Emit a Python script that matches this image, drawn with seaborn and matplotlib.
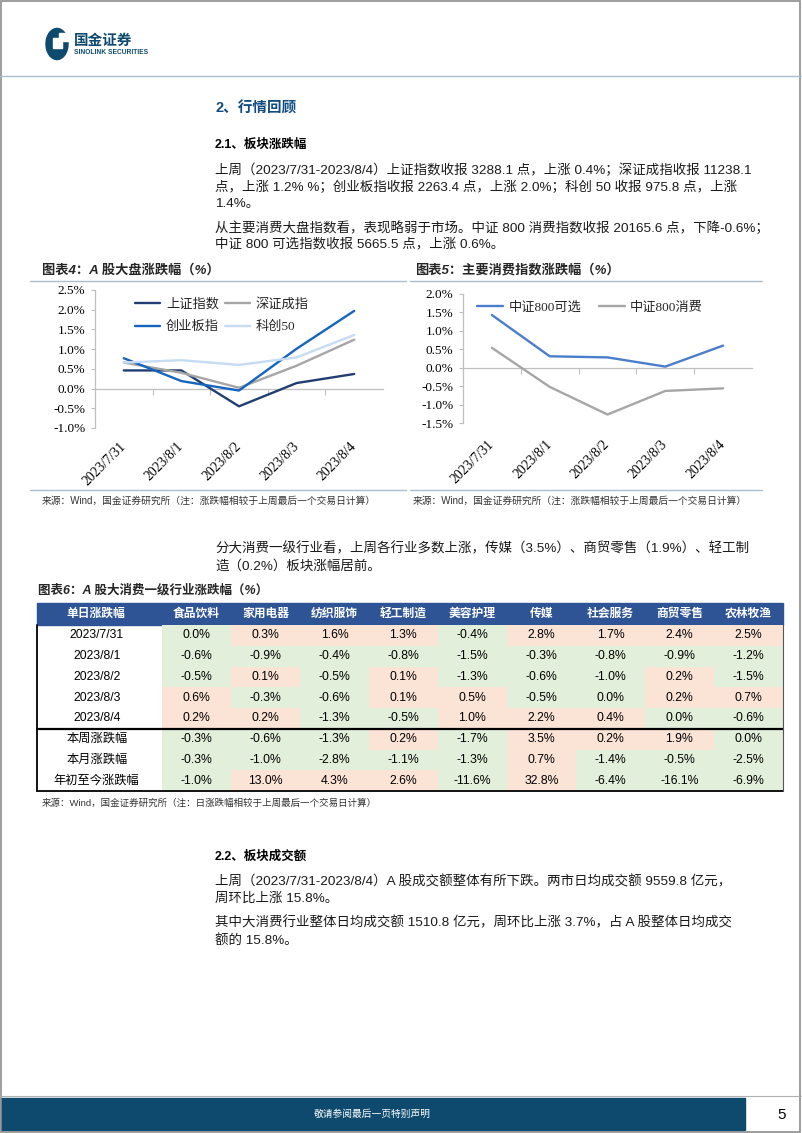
import matplotlib
matplotlib.use("Agg")
import matplotlib.pyplot as plt
import seaborn as sns
import pandas as pd
import numpy as np
from matplotlib.colors import ListedColormap
from matplotlib.patches import Rectangle, Circle, FancyBboxPatch
from matplotlib.lines import Line2D
from matplotlib.ticker import FuncFormatter
from matplotlib.font_manager import FontProperties

sns.set_theme(style="white")
plt.rcParams['font.family'] = ['Liberation Sans', 'Noto Sans CJK SC', 'DejaVu Sans']
plt.rcParams['axes.unicode_minus'] = False

# ---- data ----
dates = ["2023/7/31", "2023/8/1", "2023/8/2", "2023/8/3", "2023/8/4"]

# 图表4: A股大盘涨跌幅 (%)
sh_index = [0.46, 0.46, -0.45, 0.14, 0.37]     # 上证指数
sz_index = [0.66, 0.40, 0.02, 0.58, 1.24]      # 深证成指
cyb_index = [0.77, 0.19, -0.05, 1.01, 1.97]    # 创业板指
kc50_index = [0.66, 0.72, 0.60, 0.79, 1.36]    # 科创50

# 图表5: 主要消费指数涨跌幅 (%)
csi800_opt = [1.43, 0.31, 0.28, 0.03, 0.60]    # 中证800可选
csi800_cons = [0.54, -0.52, -1.27, -0.63, -0.56]  # 中证800消费

# 图表6: A股大消费一级行业涨跌幅 (%)
row_labels = dates + ["本周涨跌幅", "本月涨跌幅", "年初至今涨跌幅"]
industries = ["食品饮料", "家用电器", "纺织服饰", "轻工制造", "美容护理",
              "传媒", "社会服务", "商贸零售", "农林牧渔"]
food = [0.0, -0.6, -0.5, 0.6, 0.2, -0.3, -0.3, -1.0]
appliance = [0.3, -0.9, 0.1, -0.3, 0.2, -0.6, -1.0, 13.0]
textile = [1.6, -0.4, -0.5, -0.6, -1.3, -1.3, -2.8, 4.3]
light_mfg = [1.3, -0.8, 0.1, 0.1, -0.5, 0.2, -1.1, 2.6]
beauty = [-0.4, -1.5, -1.3, 0.5, 1.0, -1.7, -1.3, -11.6]
media = [2.8, -0.3, -0.6, -0.5, 2.2, 3.5, 0.7, 32.8]
social = [1.7, -0.8, -1.0, 0.0, 0.4, 0.2, -1.4, -6.4]
retail = [2.4, -0.9, 0.2, 0.2, 0.0, 1.9, -0.5, -16.1]
agri = [2.5, -1.2, -1.5, 0.7, -0.6, 0.0, -2.5, -6.9]

# ---- colours ----
NAVY = '#0f4c81'
RULE = '#a9bfd1'
AXIS_GRAY = '#bfbfbf'
HEAD_BLUE = '#2f5496'
RED_CELL = '#fbe3d6'
GREEN_CELL = '#e2efda'
FOOT = '#0d4a6e'

W, H = 802, 1133
fig = plt.figure(figsize=(W / 100, H / 100), dpi=100)
fig.patch.set_facecolor('white')


def fx(x):
    return x / W


def fy(y):
    return 1 - y / H


def rect(x0, y0, x1, y1):
    return [fx(x0), fy(y1), (x1 - x0) / W, (y1 - y0) / H]


def text(x, y, s, size=9.5, **kw):
    kw.setdefault('ha', 'left')
    kw.setdefault('va', 'center')
    fig.text(fx(x), fy(y), s, fontsize=size, **kw)


def hline(x0, x1, y, color, lw=1.0):
    fig.add_artist(Line2D([fx(x0), fx(x1)], [fy(y), fy(y)],
                          transform=fig.transFigure, color=color, lw=lw))


def vline(x, y0, y1, color, lw=1.0):
    fig.add_artist(Line2D([fx(x), fx(x)], [fy(y0), fy(y1)],
                          transform=fig.transFigure, color=color, lw=lw))


def box(x0, y0, x1, y1, color, z=-1):
    fig.add_artist(Rectangle((fx(x0), fy(y1)), (x1 - x0) / W, (y1 - y0) / H,
                             transform=fig.transFigure, color=color, zorder=z))


# ---- page frame / header ----
fig.add_artist(Rectangle((0.001, 0.001), 0.997, 0.998, transform=fig.transFigure,
                         fill=False, edgecolor='#8c8c8c', lw=1.2))
fig.add_artist(Circle((fx(57), fy(44)), 11 / W, transform=fig.transFigure, color=FOOT))
box(53, 38, 62, 48, 'white', z=2)
box(59, 33, 69, 41, 'white', z=2)
text(74, 41, "国金证券", size=10.5, color=FOOT, weight='bold')
text(74, 53, "SINOLINK SECURITIES", size=4.8, color=FOOT, weight='bold')
hline(0, W, 76, RULE, lw=1.0)

# ---- section text ----
text(215, 108, "2、行情回顾", size=10.5, color=NAVY, weight='bold')
text(215, 145, "2.1、板块涨跌幅", size=9, color='black', weight='bold')
body = [
    (170, "上周（2023/7/31-2023/8/4）上证指数收报 3288.1 点，上涨 0.4%；深证成指收报 11238.1"),
    (187, "点，上涨 1.2% %；创业板指收报 2263.4 点，上涨 2.0%；科创 50 收报 975.8 点，上涨"),
    (204, "1.4%。"),
    (228, "从主要消费大盘指数看，表现略弱于市场。中证 800 消费指数收报 20165.6 点，下降-0.6%；"),
    (244, "中证 800 可选指数收报 5665.5 点，上涨 0.6%。"),
    (549, "分大消费一级行业看，上周各行业多数上涨，传媒（3.5%）、商贸零售（1.9%）、轻工制"),
    (566, "造（0.2%）板块涨幅居前。"),
    (882, "上周（2023/7/31-2023/8/4）A 股成交额整体有所下跌。两市日均成交额 9559.8 亿元，"),
    (899, "周环比上涨 15.8%。"),
    (923, "其中大消费行业整体日均成交额 1510.8 亿元，周环比上涨 3.7%，占 A 股整体日均成交"),
    (940, "额的 15.8%。"),
]
for y, s in body:
    text(215, y, s, size=9.7, color='#1a1a1a')
text(215, 857, "2.2、板块成交额", size=9, color='black', weight='bold')

# ---- chart titles / rules ----
text(42, 270, "图表4：A 股大盘涨跌幅（%）", size=9.5, weight='bold', style='italic')
text(415, 270, "图表5：主要消费指数涨跌幅（%）", size=9.5, weight='bold', style='italic')
hline(30, 406, 281, RULE)
hline(410, 762, 281, RULE)
hline(30, 406, 490, RULE)
hline(410, 762, 490, RULE)
src = "来源：Wind，国金证券研究所（注：涨跌幅相较于上周最后一个交易日计算）"
text(42, 501, src, size=7, color='#333333')
text(413, 501, src, size=7, color='#333333')

legend_font = FontProperties(family=['Liberation Serif', 'Noto Sans CJK SC'], size=9.5)


def draw_lines(area, series, colors, ylim, legend_order, legend_kw, label_pad):
    ax = fig.add_axes(rect(*area))
    wide = pd.DataFrame(series, index=dates)
    long = wide.reset_index(names='date').melt(id_vars='date', var_name='series',
                                                value_name='value')
    sns.lineplot(data=long, x='date', y='value', hue='series', hue_order=list(series),
                 palette=colors, sort=False, linewidth=1.7, legend=False, ax=ax)
    ax.set_facecolor('none')
    ax.set_xlim(-0.5, len(dates) - 0.5)
    ax.set_ylim(*ylim)
    ax.set_yticks(np.arange(ylim[0], ylim[1] + 0.01, 0.5))
    ax.yaxis.set_major_formatter(FuncFormatter(lambda v, _: f"{v + 0:.1f}%".replace('-0.0', '0.0')))
    ax.set_xticks(range(len(dates)))
    ax.set_xticklabels(dates, rotation=45, ha='right', va='center', rotation_mode='anchor')
    ax.tick_params(axis='x', bottom=False, length=0, pad=label_pad, labelsize=9.8,
                   labelfontfamily='Liberation Serif', labelcolor='black')
    ax.tick_params(axis='y', left=True, length=3, width=0.8, color=AXIS_GRAY, pad=4,
                   labelsize=9.5, labelfontfamily='Liberation Serif', labelcolor='black')
    ax.set_xlabel('')
    ax.set_ylabel('')
    for s in ['top', 'right', 'bottom']:
        ax.spines[s].set_visible(False)
    ax.spines['left'].set_color(AXIS_GRAY)
    ax.spines['left'].set_linewidth(0.9)
    # zero line with category-boundary ticks
    zero = (0 - ylim[0]) / (ylim[1] - ylim[0])
    sec = ax.secondary_xaxis(zero)
    sec.set_xticks(np.arange(len(dates) - 1) + 0.5)
    sec.tick_params(axis='x', bottom=True, length=4, width=0.8, color=AXIS_GRAY,
                    labelbottom=False)
    sec.spines['bottom'].set_color(AXIS_GRAY)
    sec.spines['bottom'].set_linewidth(0.9)
    handles = [Line2D([], [], color=colors[n], lw=1.7) for n in legend_order]
    ax.legend(handles, legend_order, frameon=False, loc='upper left', borderpad=0,
              borderaxespad=0, prop=legend_font, **legend_kw)
    return ax


draw_lines((95, 290, 383, 428),
           {"上证指数": sh_index, "深证成指": sz_index, "创业板指": cyb_index, "科创50": kc50_index},
           {"上证指数": '#203e73', "深证成指": '#a6a6a6', "创业板指": '#1565c0', "科创50": '#c5dcf2'},
           (-1.0, 2.5), ["上证指数", "创业板指", "深证成指", "科创50"],
           dict(ncol=2, bbox_to_anchor=(0.139, 0.945), handlelength=1.9, handletextpad=0.45,
                columnspacing=0.45, labelspacing=0.8),
           label_pad=12)

draw_lines((463, 294, 752, 423),
           {"中证800可选": csi800_opt, "中证800消费": csi800_cons},
           {"中证800可选": '#4a7dcc', "中证800消费": '#a6a6a6'},
           (-1.5, 2.0), ["中证800可选", "中证800消费"],
           dict(ncol=2, bbox_to_anchor=(0.048, 0.94), handlelength=2.0, handletextpad=0.4,
                columnspacing=1.3),
           label_pad=14)

# ---- table ----
text(38, 590, "图表6：A 股大消费一级行业涨跌幅（%）", size=9, weight='bold', style='italic')
box(37, 603, 783, 625, HEAD_BLUE)
text(96, 614, "单日涨跌幅", size=8.5, color='white', weight='bold', ha='center')

tbl = pd.DataFrame(dict(zip(industries, [food, appliance, textile, light_mfg, beauty,
                                         media, social, retail, agri])), index=row_labels)
sign = (tbl > 0).astype(int)
annot = tbl.map(lambda v: f"{v:.1f}%")

ax_t = fig.add_axes(rect(162, 625, 783, 791))
sns.heatmap(sign, cmap=ListedColormap([GREEN_CELL, RED_CELL]), vmin=0, vmax=1, cbar=False,
            annot=annot, fmt='', annot_kws=dict(fontsize=8.8, color='black'),
            linewidths=0, ax=ax_t)
ax_t.set_xlabel('')
ax_t.set_ylabel('')
ax_t.xaxis.tick_top()
ax_t.set_xticklabels(industries, rotation=0, va='center', color='white', fontsize=8.5,
                     weight='bold')
ax_t.tick_params(axis='x', top=True, bottom=False, length=0, pad=8)
ax_t.set_yticklabels(row_labels, rotation=0, ha='center', fontsize=8.8, color='black')
ax_t.tick_params(axis='y', left=False, length=0, pad=47)

row_h = (791 - 625) / len(row_labels)
hline(37, 783, 625 + 5 * row_h, 'black', lw=1.6)
hline(37, 783, 791, 'black', lw=1.3)
vline(37, 625, 791, 'black', lw=1.3)
vline(783, 625, 791, '#555555', lw=0.8)
text(42, 803, "来源：Wind，国金证券研究所（注：日涨跌幅相较于上周最后一个交易日计算）",
     size=6.8, color='#333333')

# ---- footer ----
hline(0, W, 1096, '#b0b0b0', lw=0.8)
box(1, 1098, 745, 1130, FOOT)
text(372, 1114, "敬请参阅最后一页特别声明", size=7, color='white', ha='center')
text(782, 1115, "5", size=11, color='black', ha='center')

fig.savefig("out.png", dpi=100)
